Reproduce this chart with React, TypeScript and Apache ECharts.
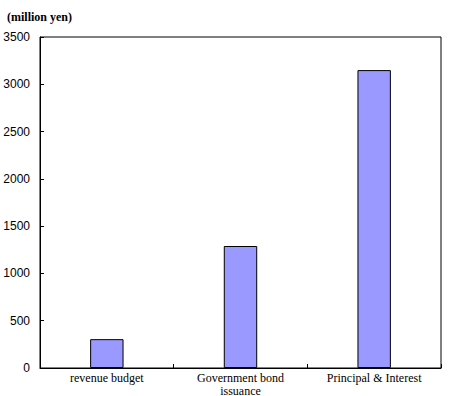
import React, { useEffect, useRef } from "react";
import * as echarts from "echarts";

const categories = ["revenue budget", "Government bond\nissuance", "Principal & Interest"];
const values = [305, 1290, 3150];
const yTicks = { min: 0, max: 3500, interval: 500 };
const unitLabel = "(million yen)";

const SERIF = "Liberation Serif";
const SANS = "Liberation Sans";

export default function App() {
  const ref = useRef<HTMLDivElement>(null);
  useEffect(() => {
    const chart = echarts.init(ref.current!, null, { renderer: "svg" });
    chart.setOption({
      animation: false,
      backgroundColor: "#ffffff",
      title: {
        text: unitLabel,
        left: 2,
        top: 6,
        textStyle: { fontFamily: SERIF, fontSize: 12, fontWeight: "bold", color: "#000" },
      },
      grid: {
        left: 40,
        right: 12,
        top: 37,
        bottom: 28,
        containLabel: false,
        outerBoundsMode: "none",
        show: true,
        borderColor: "#000",
        borderWidth: 1,
        backgroundColor: "transparent",
      },
      xAxis: {
        type: "category",
        data: categories,
        axisLine: { lineStyle: { color: "#000", width: 1 } },
        axisTick: { show: true, inside: true, length: 4, lineStyle: { color: "#000" } },
        axisLabel: {
          color: "#000",
          fontFamily: SERIF,
          fontSize: 12,
          margin: 3,
          lineHeight: 13,
          interval: 0,
        },
      },
      yAxis: {
        type: "value",
        min: yTicks.min,
        max: yTicks.max,
        interval: yTicks.interval,
        splitLine: { show: false },
        axisLine: { show: true, lineStyle: { color: "#000", width: 1 } },
        axisTick: { show: true, inside: true, length: 4, lineStyle: { color: "#000" } },
        axisLabel: {
          color: "#000",
          fontFamily: SANS,
          fontSize: 12,
          margin: 10,
          formatter: (v: number) => String(v),
        },
      },
      series: [
        {
          type: "bar",
          data: values,
          barWidth: "25%",
          itemStyle: { color: "#9999ff", borderColor: "#000", borderWidth: 1 },
        },
      ],
    });
    return () => chart.dispose();
  }, []);
  return <div ref={ref} style={{ position: "absolute", left: 0, top: 0, width: 453, height: 396 }} />;
}
